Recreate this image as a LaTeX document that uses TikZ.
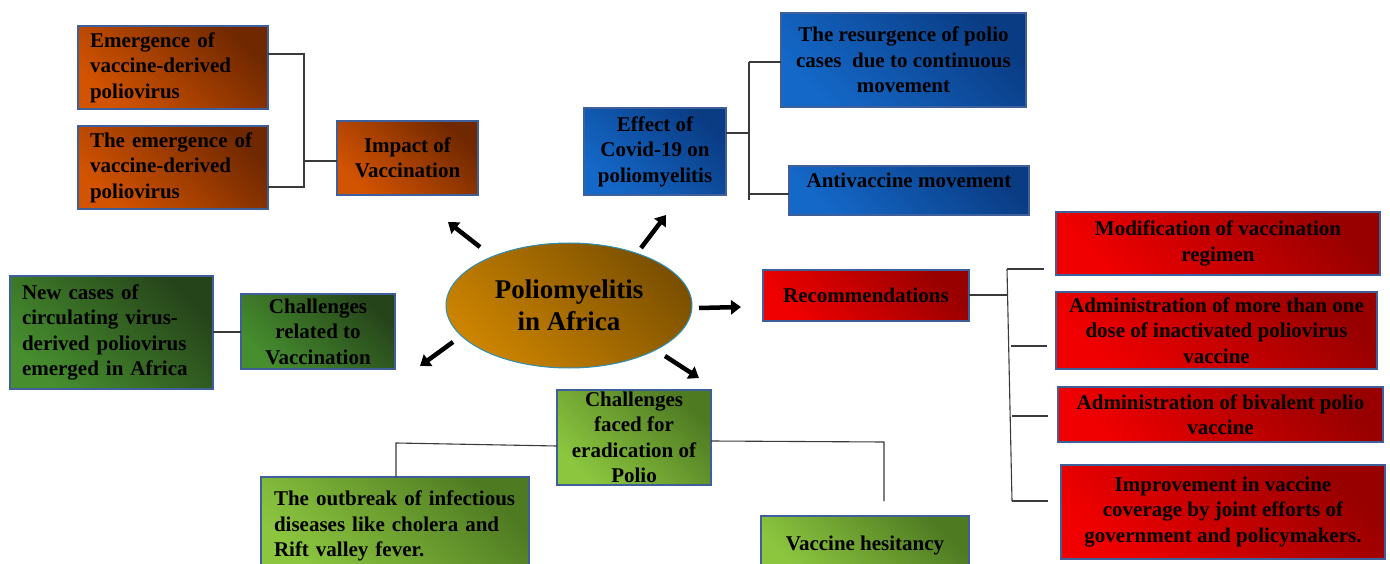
\documentclass[tikz,border=0pt]{standalone}
\usepackage{fontspec}
\setmainfont{Liberation Serif}
\usetikzlibrary{arrows.meta,shapes.geometric}
\definecolor{orL}{HTML}{D25300}
\definecolor{orD}{HTML}{702800}
\definecolor{blL}{HTML}{1468C8}
\definecolor{blD}{HTML}{0A3C84}
\definecolor{rdL}{HTML}{F00000}
\definecolor{rdD}{HTML}{980000}
\definecolor{dgL}{HTML}{468E2E}
\definecolor{dgD}{HTML}{26441A}
\definecolor{lgL}{HTML}{8CC63F}
\definecolor{lgD}{HTML}{4E7A22}
\definecolor{elL}{HTML}{CC8400}
\definecolor{elD}{HTML}{7C5000}
\definecolor{bord}{HTML}{3F5F9A}
\definecolor{conn}{HTML}{3A3A3A}
\begin{document}
\begin{tikzpicture}[x=1pt,y=-1pt,
  box/.style={draw=bord, line width=1.4pt, inner sep=0pt, align=center,
    font=\bfseries\fontsize{21}{25.5}\selectfont, text=black},
  orbox/.style={box, top color=orD, bottom color=orL, shading angle=-45},
  blbox/.style={box, top color=blD, bottom color=blL, shading angle=-45},
  rdbox/.style={box, top color=rdD, bottom color=rdL, shading angle=-45},
  dgbox/.style={box, top color=dgD, bottom color=dgL, shading angle=-45},
  lgbox/.style={box, top color=lgD, bottom color=lgL, shading angle=-45},
  wh/.style n args={2}{minimum width=#1pt, minimum height=#2pt},
  leftt/.style={align=left, text width=#1pt},
  conline/.style={draw=conn, line width=1.1pt},
  bigarrow/.style={draw=black, line width=4.5pt, -{Triangle[length=10pt,width=14pt]}},
]
\clip (0,0) rectangle (1390,564);
\fill[white] (0,0) rectangle (1390,564);

% central ellipse
\node[ellipse, draw=bord!70!cyan, line width=1pt, top color=elD, bottom color=elL, shading angle=-45,
  minimum width=246pt, minimum height=125pt, inner sep=0pt, align=center,
  font=\bfseries\fontsize{27}{32}\selectfont] (ell) at (569,305.5) {Poliomyelitis\\in Africa};

% orange group
\node[orbox, wh={190}{83}, leftt=166] (e1) at (173,67.5) {Emergence of\\vaccine-derived\\poliovirus};
\node[orbox, wh={190}{83}, leftt=166] (e2) at (173,167.5) {The emergence of\\vaccine-derived\\poliovirus};
\node[orbox, wh={141}{74}] (imp) at (407.5,158) {Impact of\\Vaccination};

% blue group
\node[blbox, wh={142}{87}] (eff) at (655,151.5) {Effect of\\Covid-19 on\\poliomyelitis};
\node[blbox, wh={245}{94}] (res) at (903.5,60) {The resurgence of polio\\cases\ \ due to continuous\\movement};
\node[blbox, wh={240}{49}] (anti) at (909,190.5) {\raisebox{10pt}[14pt][0pt]{Antivaccine movement}};

% dark green group
\node[dgbox, wh={203}{113}, leftt=179] (newc) at (111.5,332.5) {New cases of\\circulating virus-\\derived poliovirus\\emerged in Africa};
\node[dgbox, wh={154}{75}] (crel) at (318,331.5) {Challenges\\related to\\Vaccination};

% red group
\node[rdbox, wh={206}{51}] (rec) at (866,295.5) {Recommendations};
\node[rdbox, wh={324}{63}] (mod) at (1218,243.5) {Modification of vaccination\\regimen};
\node[rdbox, wh={321}{77}] (adm) at (1216.5,330.5) {Administration of more than one\\dose of inactivated poliovirus\\vaccine};
\node[rdbox, wh={325}{55}] (biv) at (1220.5,414.5) {Administration of bivalent polio\\vaccine};
\node[rdbox, wh={324}{94}] (imprv) at (1223,512) {Improvement in vaccine\\coverage by joint efforts of\\government and policymakers.};

% light green group
\node[lgbox, wh={154}{95}] (cfac) at (634,437.5) {Challenges\\faced for\\eradication of\\Polio};
\node[lgbox, wh={268}{98}, leftt=242] (outb) at (395,526) {The outbreak of infectious\\diseases like cholera and\\Rift valley fever.};
\node[lgbox, wh={208}{58}] (vh) at (865,545) {Vaccine hesitancy};

% connector coordinates
\coordinate (o1) at (304,54);
\coordinate (o2) at (304,187);
\coordinate (o3) at (304,161);
\coordinate (e1r) at (268,54);
\coordinate (e2r) at (268,187);
\coordinate (impl) at (337,161);
\draw[conline] (e1r) -- (o1) -- (o2) -- (e2r);
\draw[conline] (o3) -- (impl);

\coordinate (effr) at (726,133);
\coordinate (b0) at (749,133);
\coordinate (b1) at (749,62);
\coordinate (b2) at (749,200);
\coordinate (b3) at (749,194);
\coordinate (resl) at (781,62);
\coordinate (antil) at (789,194);
\draw[conline] (effr) -- (b0);
\draw[conline] (b1) -- (b2);
\draw[conline] (b1) -- (resl);
\draw[conline] (b3) -- (antil);

\coordinate (ncr) at (213,332);
\coordinate (crl) at (241,332);
\draw[conline] (ncr) -- (crl);

\coordinate (recr) at (969,295);
\coordinate (r0) at (1008,295);
\coordinate (rt) at (1007,269);
\coordinate (rb) at (1012,501);
\coordinate (r1) at (1044,269);
\coordinate (r2a) at (1011,346);
\coordinate (r2) at (1047,346);
\coordinate (r3a) at (1012,416);
\coordinate (r3) at (1048,416);
\coordinate (r4) at (1048,501);
\draw[conline] (recr) -- (r0);
\draw[conline] (rt) -- (rb);
\draw[conline] (rt) -- (r1);
\draw[conline] (r2a) -- (r2);
\draw[conline] (r3a) -- (r3);
\draw[conline] (rb) -- (r4);

\coordinate (cfl) at (557,446);
\coordinate (g1) at (396,443);
\coordinate (outt) at (396,477);
\coordinate (cfr) at (711,441);
\coordinate (g2) at (884,442);
\coordinate (g3) at (884,501);
\draw[conline] (cfl) -- (g1) -- (outt);
\draw[conline] (cfr) -- (g2) -- (g3);

% big arrows
\coordinate (a1s) at (480,247); \coordinate (a1e) at (448,222);
\coordinate (a2s) at (641,248); \coordinate (a2e) at (666,215);
\coordinate (a3s) at (699,308); \coordinate (a3e) at (741,307);
\coordinate (a4s) at (453,342); \coordinate (a4e) at (420,366);
\coordinate (a5s) at (665,356); \coordinate (a5e) at (699,378);
\draw[bigarrow] (a1s) -- (a1e);
\draw[bigarrow] (a2s) -- (a2e);
\draw[bigarrow] (a3s) -- (a3e);
\draw[bigarrow] (a4s) -- (a4e);
\draw[bigarrow] (a5s) -- (a5e);
\end{tikzpicture}
\end{document}
